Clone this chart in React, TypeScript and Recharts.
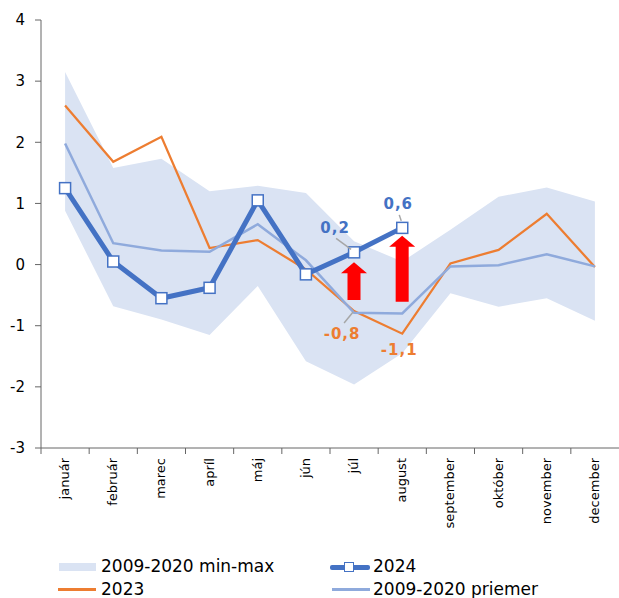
import { ComposedChart, Area, Line, Bar, XAxis, YAxis, Legend, LabelList } from 'recharts'

const months = ['január', 'február', 'marec', 'apríl', 'máj', 'jún', 'júl', 'august', 'september', 'október', 'november', 'december']
const y2024 = [1.25, 0.05, -0.55, -0.38, 1.05, -0.16, 0.2, 0.6, null, null, null, null]
const y2023 = [2.6, 1.68, 2.09, 0.27, 0.4, -0.08, -0.76, -1.13, 0.02, 0.24, 0.83, -0.04]
const avg = [1.98, 0.35, 0.23, 0.21, 0.66, 0.07, -0.79, -0.8, -0.03, -0.01, 0.17, -0.03]
const bandMin = [0.88, -0.68, -0.9, -1.15, -0.35, -1.58, -1.96, -1.45, -0.47, -0.69, -0.55, -0.92]
const bandMax = [3.15, 1.58, 1.73, 1.2, 1.29, 1.17, 0.38, 0.05, 0.57, 1.11, 1.26, 1.03]
const arrowLow = [null, null, null, null, null, null, -0.58, -0.61, null, null, null, null]
const arrowHigh = [null, null, null, null, null, null, 0.04, 0.47, null, null, null, null]
const yTicks = [-3, -2, -1, 0, 1, 2, 3, 4]
const labelled = ['júl', 'august']

const data = months.map((m, i) => ({
  month: m,
  y2024: y2024[i],
  y2023: y2023[i],
  avg: avg[i],
  band: [bandMin[i], bandMax[i]],
  arrow: arrowLow[i] == null ? null : [arrowLow[i], arrowHigh[i]],
}))

const FONT = '"DejaVu Sans", Verdana, sans-serif'
const BLUE = '#4472c4'
const ORANGE = '#ed7d31'
const LIGHT = '#8faadc'
const BAND = '#dae3f3'

const fmt = (v: number) => v.toFixed(1).replace('.', ',')

function MonthTick(props: any) {
  const { x, y, payload } = props
  const half = 578 / 12 / 2
  return (
    <g>
      <line x1={x - half} y1={y - 8} x2={x - half} y2={y - 2} stroke="#666" />
      <text
        x={x + 4}
        y={y + 2}
        transform={`rotate(-90, ${x + 4}, ${y + 2})`}
        textAnchor="end"
        fontSize={13}
        fontFamily={FONT}
        fill="#000"
      >
        {payload.value}
      </text>
    </g>
  )
}

function Square(props: any) {
  const { cx, cy, value } = props
  if (value == null || cx == null) return null
  return <rect x={cx - 5.5} y={cy - 5.5} width={11} height={11} fill="#fff" stroke={BLUE} strokeWidth={1.5} />
}

function Arrow(props: any) {
  const { x, y, width, height } = props
  if (!height || x == null) return null
  const top = Math.min(y, y + height)
  const bottom = Math.max(y, y + height)
  const cx = x + width / 2
  const hw = width / 2
  const sw = width / 4
  const head = 11
  const pts = [
    [cx, top],
    [cx + hw, top + head],
    [cx + sw, top + head],
    [cx + sw, bottom],
    [cx - sw, bottom],
    [cx - sw, top + head],
    [cx - hw, top + head],
  ]
  return <polygon points={pts.map((p) => p.join(',')).join(' ')} fill="#ff0000" />
}

function BlueLabel(props: any) {
  const { x, y, value, index } = props
  if (value == null || !labelled.includes(months[index])) return null
  const first = months[index] === 'júl'
  const dx = first ? -19 : -4
  return (
    <g>
      <line
        x1={first ? x - 18 : x - 3}
        y1={first ? y - 14 : y - 13}
        x2={first ? x - 3 : x - 1}
        y2={first ? y - 3 : y - 7}
        stroke="#a6a6a6"
        strokeWidth={1.5}
      />
      <text x={x + dx} y={y - 19} textAnchor="middle" fontSize={15} fontWeight="bold" fontFamily={FONT} fill={BLUE} letterSpacing={1}>
        {fmt(value)}
      </text>
    </g>
  )
}

function OrangeLabel(props: any) {
  const { x, y, value, index } = props
  if (value == null || !labelled.includes(months[index])) return null
  const first = months[index] === 'júl'
  return (
    <g>
      {first && <line x1={x - 1} y1={y + 1} x2={x - 10} y2={y + 12} stroke="#a6a6a6" strokeWidth={1.5} />}
      <text x={x + (first ? -12 : -3)} y={y + (first ? 28 : 21)} textAnchor="middle" fontSize={15} fontWeight="bold" fontFamily={FONT} fill={ORANGE} letterSpacing={1}>
        {fmt(value)}
      </text>
    </g>
  )
}

function LegendBox() {
  const text = { position: 'absolute' as const, fontSize: 17, fontFamily: FONT, color: '#000', lineHeight: '20px', whiteSpace: 'nowrap' as const }
  return (
    <div style={{ position: 'relative', width: 619, height: 64 }}>
      <div style={{ position: 'absolute', left: 59, top: 29, width: 37, height: 8, background: BAND }} />
      <div style={{ ...text, left: 101, top: 22 }}>2009-2020 min-max</div>
      <div style={{ position: 'absolute', left: 330, top: 31, width: 40, height: 5, background: BLUE, borderRadius: 2 }} />
      <div style={{ position: 'absolute', left: 344, top: 28, width: 8, height: 8, background: '#fff', border: `1.5px solid ${BLUE}` }} />
      <div style={{ ...text, left: 373, top: 22 }}>2024</div>
      <div style={{ position: 'absolute', left: 58, top: 54, width: 38, height: 2.5, background: ORANGE }} />
      <div style={{ ...text, left: 101, top: 45 }}>2023</div>
      <div style={{ position: 'absolute', left: 332, top: 54, width: 38, height: 2.5, background: LIGHT }} />
      <div style={{ ...text, left: 373, top: 45 }}>2009-2020 priemer</div>
    </div>
  )
}

export default function App() {
  return (
    <div style={{ position: 'absolute', left: 0, top: 0, background: '#fff' }}>
      <ComposedChart width={619} height={598} data={data} margin={{ top: 20, right: 0, left: 0, bottom: 0 }}>
        <XAxis
          dataKey="month"
          interval={0}
          height={86}
          stroke="#666"
          tickLine={false}
          tick={<MonthTick />}
        />
        <YAxis
          domain={[-3, 4]}
          ticks={yTicks}
          width={41}
          stroke="#666"
          tickSize={6}
          tickMargin={10}
          tick={{ fontSize: 15, fontFamily: FONT, fill: '#000' }}
        />
        <Legend verticalAlign="bottom" content={<LegendBox />} />
        <Area dataKey="band" fill={BAND} fillOpacity={1} stroke="none" isAnimationActive={false} />
        <Line dataKey="y2023" stroke={ORANGE} strokeWidth={2.25} dot={false} isAnimationActive={false}>
          <LabelList dataKey="y2023" content={<OrangeLabel />} />
        </Line>
        <Line dataKey="avg" stroke={LIGHT} strokeWidth={2.5} dot={false} isAnimationActive={false} />
        <Bar dataKey="arrow" barSize={26} shape={<Arrow />} isAnimationActive={false} />
        <Line dataKey="y2024" stroke={BLUE} strokeWidth={5} dot={<Square />} activeDot={false} isAnimationActive={false}>
          <LabelList dataKey="y2024" content={<BlueLabel />} />
        </Line>
      </ComposedChart>
    </div>
  )
}
